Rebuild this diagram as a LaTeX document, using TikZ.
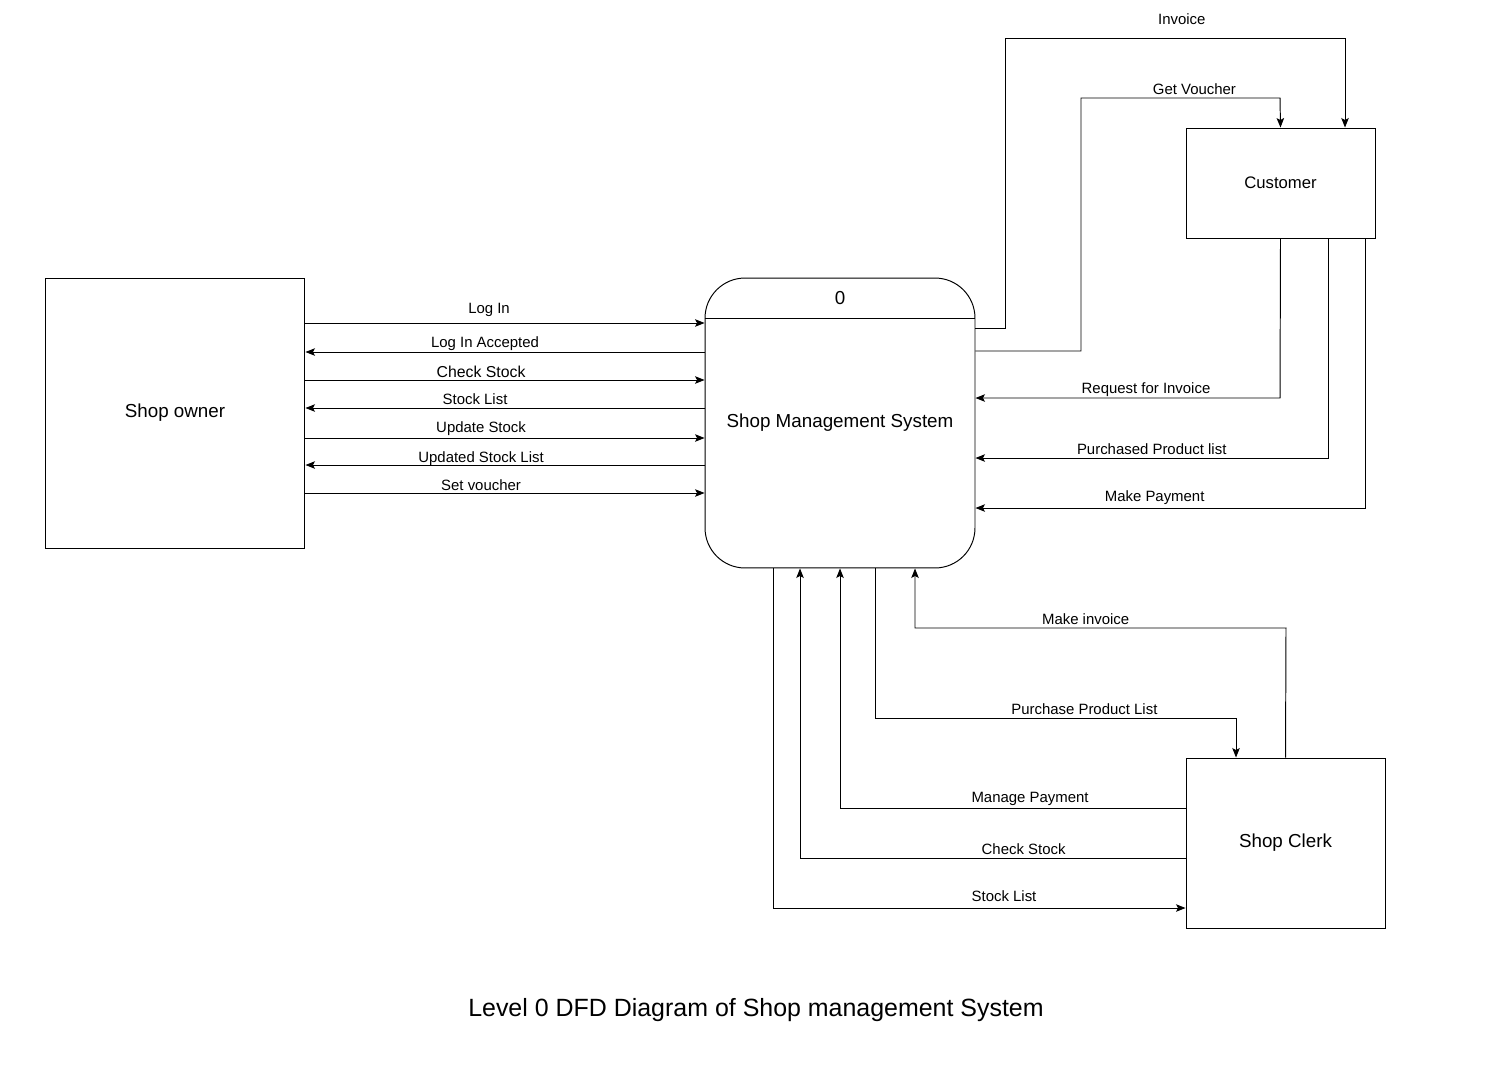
\documentclass[tikz,border=0pt]{standalone}
\usepackage{fontspec}
\setmainfont{Liberation Sans}
\usetikzlibrary{arrows.meta, positioning}

\begin{document}
\begin{tikzpicture}[
  x=0.02cm, y=-0.02cm,
  box/.style={draw, line width=0.55pt, align=center, font=\fontsize{10.7}{13}\selectfont},
  arrow/.style={-{Stealth[length=0.19cm, width=0.15cm, inset=0.04cm]}, line width=0.55pt},
  lbl/.style={font=\fontsize{8.5}{10}\selectfont, inner sep=0pt, yshift=#1},
  lbl/.default=0.18cm,
]
\useasboundingbox (0,0) rectangle (1494,1079);

% Nodes
\node[box, minimum width=5.2cm, minimum height=5.4cm] (owner) at (175,413) {Shop owner};
\node[box, rounded corners=0.8cm, minimum width=5.4cm, minimum height=5.8cm] (sms) at (840,423) {Shop Management System};
\node[font=\fontsize{10.7}{13}\selectfont] (smsnum) at (840,298) {0};
\node[box, font=\fontsize{9.5}{11}\selectfont, minimum width=3.78cm, minimum height=2.2cm] (customer) at (1280.5,183) {Customer};
\node[box, minimum width=3.98cm, minimum height=3.4cm] (clerk) at (1285.5,843) {Shop Clerk};
\node[font=\fontsize{14.2}{17}\selectfont] (title) at (756,1010) {Level 0 DFD Diagram of Shop management System};

% Process header line
\draw[line width=0.55pt] (sms.west |- 0,318) -- (sms.east |- 0,318);

% Arrows: shop owner
\draw[arrow] (owner.east |- 0,323) -- node[lbl=0.26cm, pos=0.46] {Log In} (sms.west |- 0,323);
\draw[arrow] (sms.west |- 0,352) -- node[lbl=0.16cm, pos=0.55] {Log In Accepted} (owner.east |- 0,352);
\draw[arrow] (owner.east |- 0,380) -- node[lbl=0.16cm, pos=0.44, font=\fontsize{9}{11}\selectfont] {Check Stock} (sms.west |- 0,380);
\draw[arrow] (sms.west |- 0,408) -- node[lbl, pos=0.575] {Stock List} (owner.east |- 0,408);
\draw[arrow] (owner.east |- 0,438) -- node[lbl, pos=0.44] {Update Stock} (sms.west |- 0,438);
\draw[arrow] (sms.west |- 0,465) -- node[lbl=0.13cm, pos=0.56] {Updated Stock List} (owner.east |- 0,465);
\draw[arrow] (owner.east |- 0,493) -- node[lbl=0.15cm, pos=0.44] {Set voucher} (sms.west |- 0,493);

% Arrows: customer
\draw[arrow] (sms.east |- 0,328) -- (1005,328) -- (1005,38) -- node[lbl=0.37cm, pos=0.52] {Invoice} (1345,38) -- (customer.north -| 1345,0);
\draw[arrow] (sms.east |- 0,351) -- (1081,351) -- (1081,98) -- node[lbl, pos=0.57] {Get Voucher} (1280,98) -- (customer.north);
\draw[arrow] (customer.south) -- (1280,398) -- node[lbl=0.16cm, pos=0.44] {Request for Invoice} (sms.east |- 0,398);
\draw[arrow] (customer.south -| 1328,0) -- (1328,458) -- node[lbl, pos=0.5] {Purchased Product list} (sms.east |- 0,458);
\draw[arrow] (customer.south -| 1365,0) -- (1365,508) -- node[lbl=0.2cm, pos=0.54] {Make Payment} (sms.east |- 0,508);

% Arrows: shop clerk
\draw[arrow] (clerk.north) -- (1286,628) -- node[lbl, pos=0.54] {Make invoice} (915,628) -- (sms.south -| 915,0);
\draw[arrow] (sms.south -| 875,0) -- (875,718) -- node[lbl, pos=0.58] {Purchase Product List} (1236,718) -- (clerk.north -| 1236,0);
\draw[arrow] (clerk.west |- 0,808) -- node[lbl, pos=0.45] {Manage Payment} (840,808) -- (sms.south);
\draw[arrow] (clerk.west |- 0,858) -- node[lbl, pos=0.42] {Check Stock} (800,858) -- (sms.south -| 800,0);
\draw[arrow] (sms.south -| 773,0) -- (773,908) -- node[lbl=0.24cm, pos=0.56] {Stock List} (clerk.west |- 0,908);

\end{tikzpicture}
\end{document}
